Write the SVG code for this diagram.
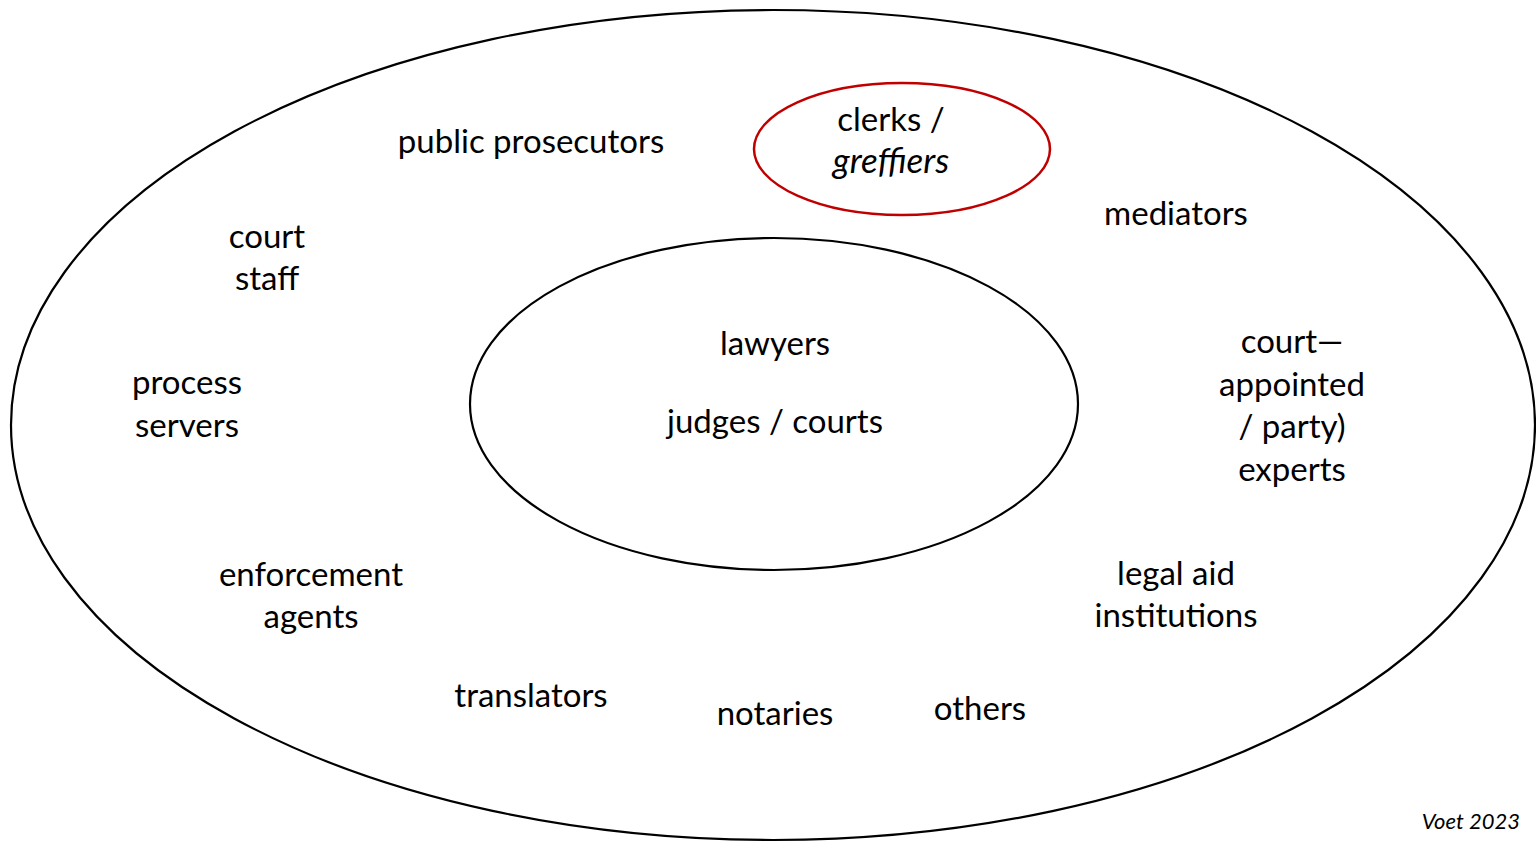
<svg xmlns="http://www.w3.org/2000/svg" width="1536" height="842" viewBox="0 0 1536 842">
  <style>
    .ring { fill: none; stroke: #000; stroke-width: 2.2; }
    .hl { fill: none; stroke: #c00000; stroke-width: 2.5; }
    text { font-family: Lato, "Liberation Sans", sans-serif; font-size: 33px; fill: #000; text-anchor: middle; }
    .it { font-style: italic; font-size: 35px; }
    .credit { font-size: 22px; font-style: italic; text-anchor: end; }
  </style>
  <rect width="1536" height="842" fill="#fff"/>
  <g id="outer-ring"><ellipse class="ring" cx="773" cy="425" rx="762" ry="415"/></g>
  <g id="core">
    <ellipse class="ring" cx="774" cy="404" rx="304" ry="166"/>
    <text x="775" y="355">lawyers</text>
    <text x="775" y="433">judges / courts</text>
  </g>
  <g id="clerks">
    <ellipse class="hl" cx="902" cy="149" rx="148" ry="66"/>
    <text x="891" y="131">clerks /</text>
    <text class="it" x="891" y="173">greffiers</text>
  </g>
  <g id="prosecutors"><text x="531" y="153">public prosecutors</text></g>
  <g id="mediators"><text x="1176" y="225">mediators</text></g>
  <g id="court-staff"><text x="267" y="248">court</text><text x="267" y="290">staff</text></g>
  <g id="process-servers"><text x="187" y="394">process</text><text x="187" y="437">servers</text></g>
  <g id="experts">
    <text x="1292" y="353">court—</text>
    <text x="1292" y="396">appointed</text>
    <text x="1292" y="438">/ party)</text>
    <text x="1292" y="481">experts</text>
  </g>
  <g id="enforcement"><text x="311" y="586">enforcement</text><text x="311" y="628">agents</text></g>
  <g id="legal-aid"><text x="1176" y="585">legal aid</text><text x="1176" y="627">institutions</text></g>
  <g id="translators"><text x="531" y="707">translators</text></g>
  <g id="notaries"><text x="775" y="725">notaries</text></g>
  <g id="others"><text x="980" y="720">others</text></g>
  <g id="connectors"></g>
  <text class="credit" x="1520" y="829">Voet 2023</text>
</svg>
